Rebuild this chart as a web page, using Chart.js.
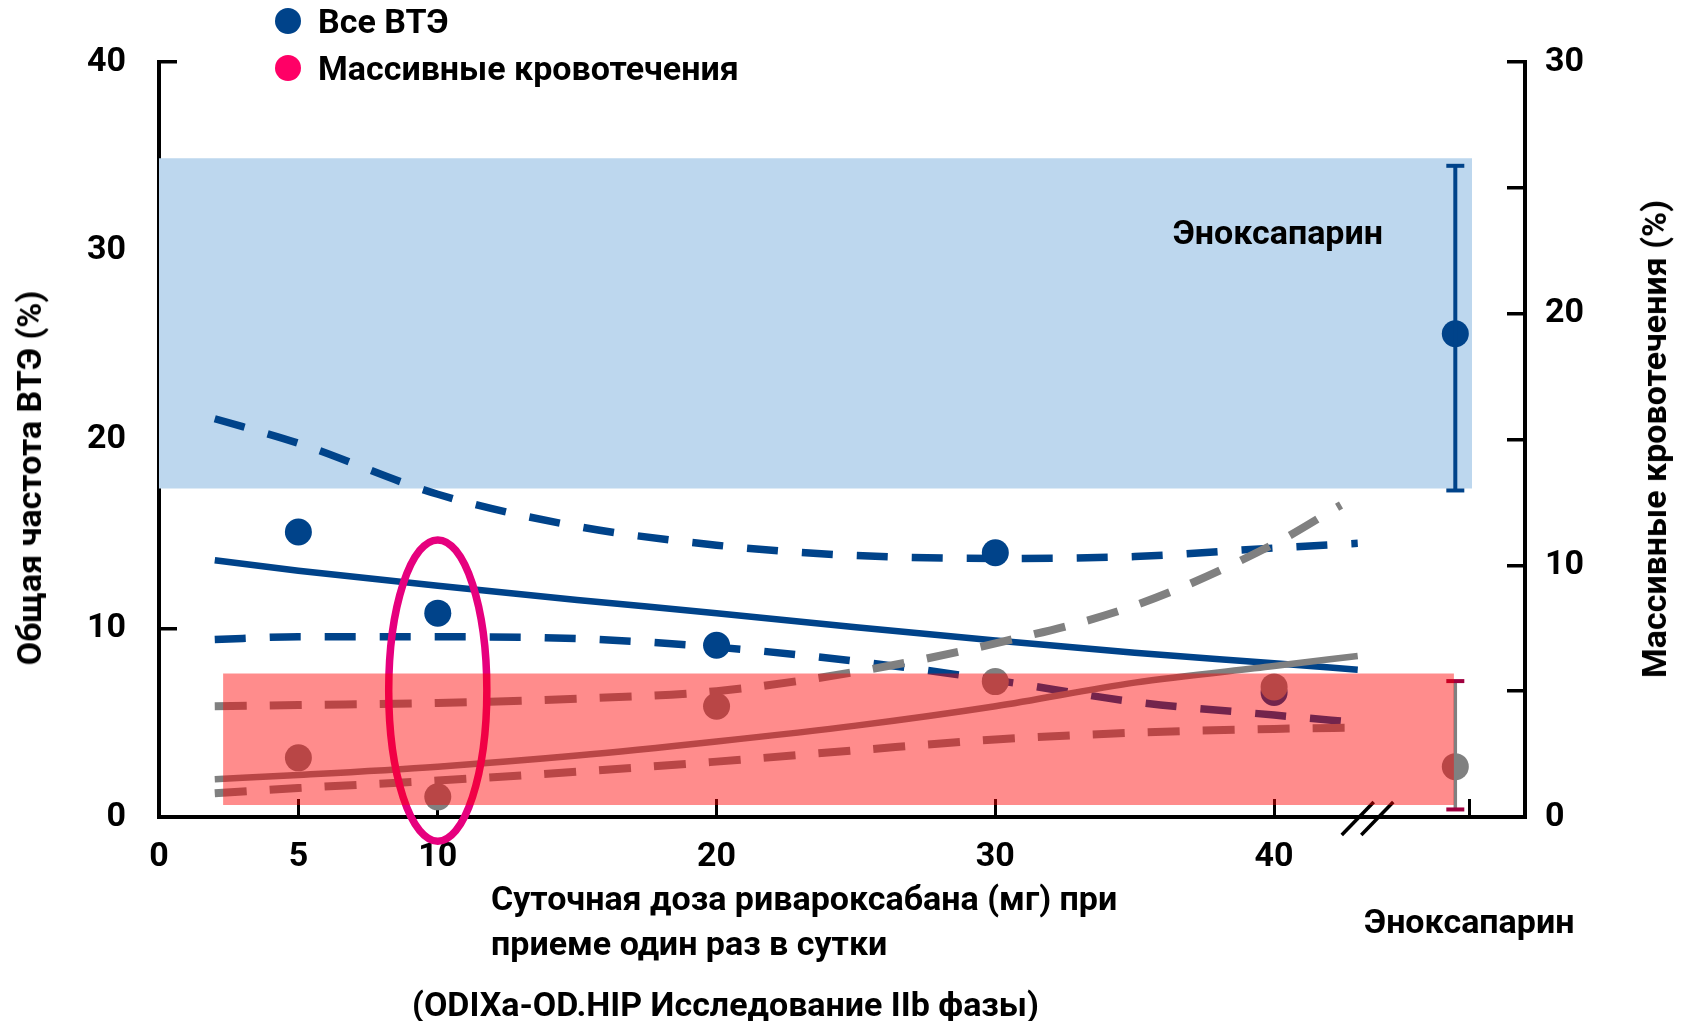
<!DOCTYPE html>
<html>
<head>
<meta charset="utf-8">
<script src="https://cdn.jsdelivr.net/npm/chart.js@4.4.0/dist/chart.umd.min.js"></script>
<style>
  body { margin: 0; background: #fff; }
  #wrap { position: relative; width: 1686px; height: 1021px; }
  .t { position: absolute; font-family: Roboto, "Noto Sans", sans-serif; font-weight: 700; font-size: 34px; color: #000; white-space: nowrap; line-height: 1; }
  .dot { position: absolute; width: 26px; height: 26px; border-radius: 50%; }
</style>
</head>
<body>
<div id="wrap">
  <canvas id="myChart" width="1686" height="1021"></canvas>

  <span class="dot" style="left:275px; top:8px; background:#00438a"></span>
  <div class="t" style="left:318px; top:21px; transform:translateY(-50%)">Все ВТЭ</div>
  <span class="dot" style="left:275px; top:55px; background:#ff0066"></span>
  <div class="t" style="left:318px; top:68px; transform:translateY(-50%)">Массивные кровотечения</div>

  <div class="t" style="left:29px; top:478px; transform:translate(-50%,-50%) rotate(-90deg)">Общая частота ВТЭ (%)</div>
  <div class="t" style="left:1654px; top:439px; transform:translate(-50%,-50%) rotate(-90deg)">Массивные кровотечения (%)</div>

  <div class="t" style="right:303px; top:232px; transform:translateY(-50%)">Эноксапарин</div>

  <div class="t" style="left:491px; top:898px; transform:translateY(-50%)">Суточная доза ривароксабана (мг) при</div>
  <div class="t" style="left:491px; top:943px; transform:translateY(-50%)">приеме один раз в сутки</div>
  <div class="t" style="left:412px; top:1004px; transform:translateY(-50%)">(ODIXa-OD.HIP Исследование IIb фазы)</div>
</div>

<script>
// rivaroxaban doses and observed rates
var doses = [5, 10, 20, 30, 40];
var vteAll = [15.1, 10.8, 9.1, 14.0, 6.6];          // left axis, %
var majorBleeding = [2.35, 0.8, 4.4, 5.38, 5.17];   // right axis, %

// fitted curves
var fitDoses = [2, 5, 10, 15, 20, 25, 30, 35, 40, 43];
var vteFit = [13.6, 13.05, 12.25, 11.5, 10.8, 10.05, 9.35, 8.7, 8.15, 7.8];
var vteUpper = [21.1, 19.8, 17.1, 15.4, 14.4, 13.85, 13.7, 13.8, 14.25, 14.5];
var vteLower = [9.4, 9.55, 9.55, 9.45, 9.0, 8.25, 7.25, 6.1, 5.4, 5.0];
var bleedFit = [1.5, 1.67, 2.0, 2.44, 3.0, 3.63, 4.4, 5.34, 6.0, 6.4];
var bleedLower = [0.94, 1.15, 1.45, 1.8, 2.2, 2.65, 3.08, 3.35, 3.5, 3.55];
var bleedUpperDoses = [2, 5, 10, 15, 20, 25, 30, 35, 40, 42.4];
var bleedUpper = [4.4, 4.45, 4.53, 4.7, 5.0, 5.77, 6.9, 8.4, 10.85, 12.4];

// enoxaparin comparator
var enoxX = 46.5;
var enoxVte = [17.3, 25.6, 34.5];     // low, mean, high (left axis)
var enoxBleed = [0.3, 2.0, 5.4];      // low, mean, high (right axis)

// shaded ranges (left axis units)
var blueBandX = [0, 47.1];
var blueBandY = [17.4, 34.9];
var redBandX = [2.3, 46.45];
var redBandY = [0.63, 7.6];

// axis ticks
var xTicks = [0, 5, 10, 20, 30, 40, 47];
var xTickLabels = ['0', '5', '10', '20', '30', '40', ['', 'Эноксапарин']];
var axisBreaks = [43.0, 43.7];

// highlighted 10 mg dose
var ellipseCenter = [10, 6.7];
var ellipseRadius = [1.76, 7.98];

var BLUE = '#00438a';
var GRAY = '#808080';

function pts(xs, ys) {
    return xs.map(function (x, i) { return {x: x, y: ys[i]}; });
}
function band(xs, y) {
    return [{x: xs[0], y: y}, {x: xs[1], y: y}];
}

var fontSpec = {family: 'Roboto', weight: 'bold', size: 34};

var overlays = {
    id: 'overlays',
    afterDatasetDraw: function (chart, args) {
        if (chart.data.datasets[args.index].id !== 'redBandBottom') return;
        var ctx = chart.ctx;
        var x = chart.scales.x, y = chart.scales.y;
        ctx.save();
        // axis break
        ctx.strokeStyle = '#000';
        ctx.lineWidth = 3.5;
        axisBreaks.forEach(function (v) {
            var px = x.getPixelForValue(v);
            var py = y.getPixelForValue(0);
            ctx.beginPath();
            ctx.moveTo(px - 16, py + 18);
            ctx.lineTo(px + 16, py - 15);
            ctx.stroke();
        });
        // ellipse round the 10 mg dose
        var cx = x.getPixelForValue(ellipseCenter[0]);
        var cy = y.getPixelForValue(ellipseCenter[1]);
        var rx = x.getPixelForValue(ellipseCenter[0] + ellipseRadius[0]) - cx;
        var ry = cy - y.getPixelForValue(ellipseCenter[1] + ellipseRadius[1]);
        ctx.strokeStyle = '#e6007e';
        ctx.lineWidth = 7.5;
        ctx.beginPath();
        ctx.ellipse(cx, cy, rx, ry, 0, 0, Math.PI * 2);
        ctx.stroke();
        ctx.restore();
    }
};

// keep the tick padding from pushing the chart area down
function fixVertical(width) {
    return function (scale) {
        scale.width = width;
        scale.paddingTop = 0;
        scale.paddingBottom = 0;
    };
}

var ctx = document.getElementById('myChart').getContext('2d');
var myChart = new Chart(ctx, {
    type: 'scatter',
    data: {
        datasets: [
            { // red band, drawn on top of everything
                id: 'redBandTop',
                data: band(redBandX, redBandY[1]),
                showLine: true, borderWidth: 0, pointRadius: 0,
                fill: {target: 1},
                backgroundColor: 'rgba(255,0,0,0.45)',
                order: 0
            },
            {
                id: 'redBandBottom',
                data: band(redBandX, redBandY[0]),
                showLine: true, borderWidth: 0, pointRadius: 0,
                order: 1
            },
            { // enoxaparin bleeding error bar
                data: [{x: enoxX, y: enoxBleed[0]}, {x: enoxX, y: enoxBleed[2]}],
                yAxisID: 'y2', showLine: true,
                borderColor: GRAY, borderWidth: 3.5,
                pointStyle: 'line', pointRadius: 9, pointBorderWidth: 4,
                pointBorderColor: '#a0003f',
                order: 2
            },
            {
                data: [{x: enoxX, y: enoxBleed[1]}],
                yAxisID: 'y2', pointRadius: 13.5, backgroundColor: GRAY, borderWidth: 0,
                order: 3
            },
            { // bleeding observed
                label: 'Массивные кровотечения',
                data: pts(doses, majorBleeding),
                yAxisID: 'y2', pointRadius: 13.5, backgroundColor: GRAY, borderWidth: 0,
                order: 4
            },
            {
                data: pts(fitDoses, bleedFit),
                yAxisID: 'y2', showLine: true, pointRadius: 0,
                borderColor: GRAY, borderWidth: 6.5, cubicInterpolationMode: 'monotone',
                order: 5
            },
            {
                data: pts(bleedUpperDoses, bleedUpper),
                yAxisID: 'y2', showLine: true, pointRadius: 0,
                borderColor: GRAY, borderWidth: 8, borderDash: [32, 23], cubicInterpolationMode: 'monotone',
                order: 6
            },
            {
                data: pts(fitDoses, bleedLower),
                yAxisID: 'y2', showLine: true, pointRadius: 0,
                borderColor: GRAY, borderWidth: 8, borderDash: [32, 23], cubicInterpolationMode: 'monotone',
                order: 7
            },
            { // enoxaparin VTE error bar
                data: [{x: enoxX, y: enoxVte[0]}, {x: enoxX, y: enoxVte[2]}],
                showLine: true,
                borderColor: BLUE, borderWidth: 4,
                pointStyle: 'line', pointRadius: 9, pointBorderWidth: 4,
                pointBorderColor: BLUE,
                order: 8
            },
            {
                data: [{x: enoxX, y: enoxVte[1]}],
                pointRadius: 13.5, backgroundColor: BLUE, borderWidth: 0,
                order: 9
            },
            { // VTE observed
                label: 'Все ВТЭ',
                data: pts(doses, vteAll),
                pointRadius: 13.5, backgroundColor: BLUE, borderWidth: 0,
                order: 10
            },
            {
                data: pts(fitDoses, vteFit),
                showLine: true, pointRadius: 0,
                borderColor: BLUE, borderWidth: 6.5, cubicInterpolationMode: 'monotone',
                order: 11
            },
            {
                data: pts(fitDoses, vteUpper),
                showLine: true, pointRadius: 0,
                borderColor: BLUE, borderWidth: 7.5, borderDash: [31, 24], cubicInterpolationMode: 'monotone',
                order: 12
            },
            {
                data: pts(fitDoses, vteLower),
                showLine: true, pointRadius: 0,
                borderColor: BLUE, borderWidth: 7.5, borderDash: [31, 24], cubicInterpolationMode: 'monotone',
                order: 13
            },
            { // blue band (enoxaparin VTE range)
                data: band(blueBandX, blueBandY[1]),
                showLine: true, borderWidth: 0, pointRadius: 0,
                fill: {target: 15},
                backgroundColor: '#bdd7ee',
                order: 14
            },
            {
                data: band(blueBandX, blueBandY[0]),
                showLine: true, borderWidth: 0, pointRadius: 0,
                order: 15
            }
        ]
    },
    options: {
        responsive: false,
        animation: false,
        devicePixelRatio: 1,
        layout: {padding: {top: 62, left: 0, right: 0, bottom: 0}},
        elements: {line: {borderCapStyle: 'butt'}},
        scales: {
            x: {
                type: 'linear',
                min: 0,
                max: 49,
                afterBuildTicks: function (scale) {
                    scale.ticks = xTicks.map(function (v) { return {value: v}; });
                },
                afterFit: function (scale) { scale.height = 204; },
                ticks: {
                    autoSkip: false,
                    maxRotation: 0,
                    padding: 25,
                    color: '#000',
                    font: {family: 'Roboto', weight: 'bold', size: 34, lineHeight: 1.97},
                    callback: function (value, index) { return xTickLabels[index]; }
                },
                grid: {drawOnChartArea: false, tickLength: -18, lineWidth: 3, color: '#000'},
                border: {color: '#000', width: 4}
            },
            y: {
                position: 'left',
                min: 0,
                max: 40,
                z: 1,
                afterFit: fixVertical(159),
                ticks: {stepSize: 10, padding: 51, color: '#000', font: fontSpec},
                grid: {drawOnChartArea: false, tickLength: -18, lineWidth: 3.5, color: '#000'},
                border: {color: '#000', width: 4}
            },
            y2: {
                position: 'right',
                min: 0,
                max: 30,
                afterFit: fixVertical(161),
                ticks: {
                    stepSize: 5,
                    padding: 38,
                    color: '#000',
                    font: fontSpec,
                    callback: function (value) { return value % 10 === 0 ? value : ''; }
                },
                grid: {drawOnChartArea: false, tickLength: -18, lineWidth: 3.5, color: '#000'},
                border: {color: '#000', width: 4}
            }
        },
        plugins: {
            legend: {display: false},
            tooltip: {enabled: false}
        }
    },
    plugins: [overlays]
});
</script>
</body>
</html>
